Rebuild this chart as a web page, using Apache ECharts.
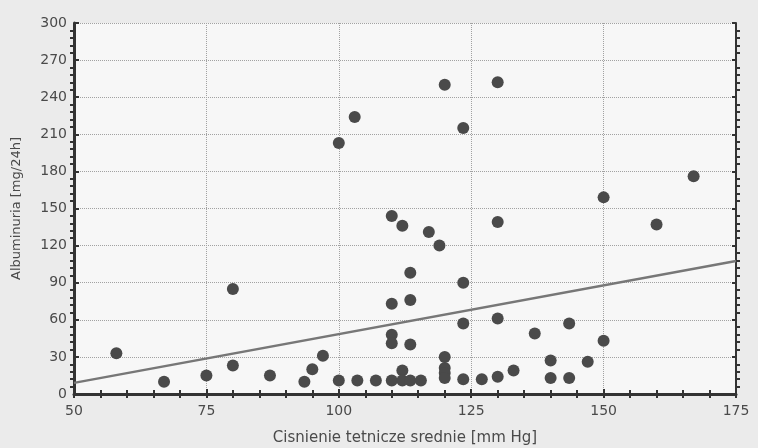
<!DOCTYPE html>
<html>
<head>
<meta charset="utf-8">
<script src="https://cdn.jsdelivr.net/npm/echarts@6/dist/echarts.min.js"></script>
<style>
html, body { margin: 0; padding: 0; background: #ebebeb; }
#chart { width: 758px; height: 448px; }
</style>
</head>
<body>
<div id="chart"></div>
<script>
// cisnienie tetnicze srednie (x) i albuminuria (y)
var pressure = [58, 67, 75, 80, 80, 87, 93.5, 95, 97, 100, 100, 103, 103.5, 107,
    110, 110, 110, 110, 110, 112, 112, 112, 113.5, 113.5, 113.5, 113.5, 115.5, 117, 119,
    120, 120, 120, 120, 120, 123.5, 123.5, 123.5, 123.5, 127, 130, 130, 130, 130,
    133, 137, 140, 140, 143.5, 143.5, 147, 150, 150, 160, 167];
var albumin = [33, 10, 15, 85, 23, 15, 10, 20, 31, 203, 11, 224, 11, 11,
    144, 73, 48, 41, 11, 136, 19, 11, 98, 76, 40, 11, 11, 131, 120,
    250, 30, 21, 17, 13, 215, 90, 57, 12, 12, 252, 139, 61, 14,
    19, 49, 27, 13, 57, 13, 26, 159, 43, 137, 176];

// linia regresji
var lineX = [50, 175];
var lineY = [9, 107.5];

var xTicks = [50, 75, 100, 125, 150, 175];
var yTicks = [0, 30, 60, 90, 120, 150, 180, 210, 240, 270, 300];

var points = pressure.map(function (p, i) { return [p, albumin[i]]; });
var line = lineX.map(function (p, i) { return [p, lineY[i]]; });

var labelFont = { color: '#4a4a4a', fontSize: 14, fontFamily: 'DejaVu Sans' };
var tickStyle = { color: '#333', width: 2 };

var myChart = echarts.init(document.getElementById('chart'));
var option = {
    backgroundColor: '#ebebeb',
    animation: false,
    grid: {
        left: 74, right: 22, top: 23, bottom: 54,
        outerBoundsMode: 'none',
        show: true, backgroundColor: '#f7f7f7', borderWidth: 0
    },
    xAxis: [{
        type: 'value',
        min: xTicks[0], max: xTicks[xTicks.length - 1], interval: 25,
        name: 'Cisnienie tetnicze srednie [mm Hg]',
        nameLocation: 'middle', nameGap: 37,
        nameTextStyle: { color: '#4a4a4a', fontSize: 15, fontFamily: 'DejaVu Sans' },
        axisLine: { lineStyle: { color: '#333', width: 3 } },
        axisTick: { inside: true, length: 5, lineStyle: tickStyle },
        minorTick: { show: true, splitNumber: 5, length: -4, lineStyle: tickStyle },
        axisLabel: Object.assign({ margin: 10 }, labelFont),
        splitLine: { lineStyle: { color: '#a2a2a2', type: 'dotted', width: 1 } }
    }, {
        type: 'value', position: 'top',
        min: xTicks[0], max: xTicks[xTicks.length - 1], interval: 25,
        axisLine: { lineStyle: { color: '#333', width: 2 } },
        axisTick: { inside: true, length: 4, lineStyle: tickStyle },
        minorTick: { show: true, splitNumber: 5, length: -4, lineStyle: tickStyle },
        axisLabel: { show: false },
        splitLine: { show: false }
    }],
    yAxis: [{
        type: 'value',
        min: yTicks[0], max: yTicks[yTicks.length - 1], interval: 30,
        name: 'Albuminuria [mg/24h]',
        nameLocation: 'middle', nameGap: 51,
        nameTextStyle: { color: '#4a4a4a', fontSize: 13, fontFamily: 'DejaVu Sans' },
        axisLine: { lineStyle: { color: '#333', width: 3 } },
        axisTick: { inside: true, length: 5, lineStyle: tickStyle },
        minorTick: { show: true, splitNumber: 5, length: -4, lineStyle: tickStyle },
        axisLabel: Object.assign({ margin: 7 }, labelFont),
        splitLine: { lineStyle: { color: '#a2a2a2', type: 'dotted', width: 1 } }
    }, {
        type: 'value', position: 'right',
        min: yTicks[0], max: yTicks[yTicks.length - 1], interval: 30,
        axisLine: { lineStyle: { color: '#333', width: 2 } },
        axisTick: { inside: true, length: 4, lineStyle: tickStyle },
        minorTick: { show: true, splitNumber: 5, length: -4, lineStyle: tickStyle },
        axisLabel: { show: false },
        splitLine: { show: false }
    }],
    series: [{
        type: 'line',
        data: line,
        symbol: 'none',
        lineStyle: { color: '#777', width: 2.5 },
        z: 2
    }, {
        type: 'scatter',
        data: points,
        symbolSize: 12,
        itemStyle: { color: '#4a4a4a', opacity: 1 },
        z: 3
    }]
};
myChart.setOption(option);
</script>
</body>
</html>
